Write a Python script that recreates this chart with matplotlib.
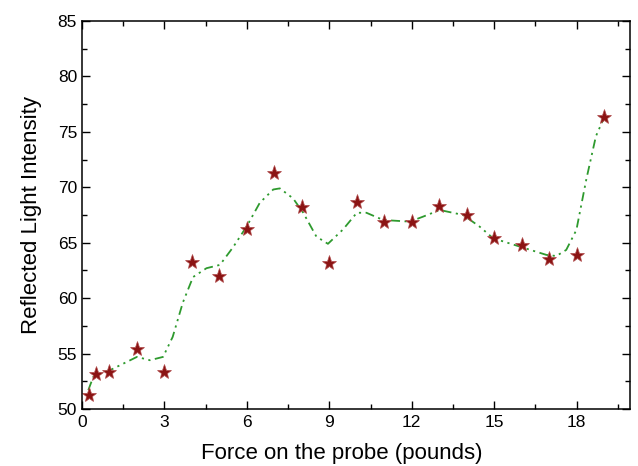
import matplotlib
matplotlib.use("Agg")
import matplotlib.pyplot as plt
from matplotlib.ticker import MultipleLocator

plt.rcParams['font.family'] = ['Liberation Sans', 'DejaVu Sans']

# measured points
force = [0.25, 0.5, 1, 2, 3, 4, 5, 6, 7, 8, 9, 10, 11, 12, 13, 14, 15, 16, 17, 18, 19]
intensity = [51.3, 53.2, 53.3, 55.4, 53.3, 63.3, 62.0, 66.2, 71.3, 68.2, 63.2,
             68.7, 66.9, 66.9, 68.3, 67.5, 65.4, 64.8, 63.5, 63.9, 76.3]

# fitted curve
fit_x = [0.23, 0.41, 1.02, 2.0, 2.47, 2.95, 3.3, 3.67, 4.04, 4.53, 5.02, 5.5, 6.0,
         6.47, 6.96, 7.2, 7.68, 8.05, 8.53, 8.95, 9.5, 10.0, 10.35, 10.96, 11.93,
         12.41, 13.02, 13.87, 14.47, 14.96, 15.93, 16.9, 17.26, 17.62, 17.99,
         18.35, 18.7, 19.0]
fit_y = [51.7, 52.9, 53.5, 54.7, 54.4, 54.7, 56.5, 59.6, 61.9, 62.7, 63.0, 64.6, 66.5,
         68.6, 69.8, 69.9, 69.0, 67.7, 65.55, 64.9, 66.2, 67.7, 67.7, 67.05, 66.9,
         67.35, 67.95, 67.5, 66.45, 65.4, 64.65, 63.9, 63.8, 64.35, 66.15,
         70.7, 74.6, 76.3]

fig = plt.figure(figsize=(6.38, 4.66), dpi=100)
ax = fig.add_axes([0.1285, 0.1223, 0.8585, 0.8327])

# smooth fit as dash-dot-dot green line
ax.plot(fit_x, fit_y, color='#2e9a2e', lw=1.3, dashes=[5, 2.5, 1.2, 2.5, 1.2, 2.5])
ax.plot(force, intensity, linestyle='none', marker='*', markersize=11,
        color='#8b1414', markeredgecolor='#b04a4a', markeredgewidth=0.5)

ax.set_xlim(0, 19.93)
ax.set_ylim(50, 85)
ax.xaxis.set_major_locator(MultipleLocator(3))
ax.xaxis.set_minor_locator(MultipleLocator(1.5))
ax.yaxis.set_major_locator(MultipleLocator(5))
ax.yaxis.set_minor_locator(MultipleLocator(2.5))
ax.tick_params(which='both', direction='in', top=True, right=True, labelsize=12.5,
               width=1)
ax.tick_params(which='major', length=6)
ax.tick_params(which='minor', length=3.5)
ax.tick_params(axis='x', pad=4)
for s in ax.spines.values():
    s.set_linewidth(1.1)

ax.set_xlabel("Force on the probe (pounds)", fontsize=16)
ax.xaxis.set_label_coords(0.475, -0.088)
ax.set_ylabel("Reflected Light Intensity", fontsize=16, labelpad=11)

fig.savefig("out.png", dpi=100)
